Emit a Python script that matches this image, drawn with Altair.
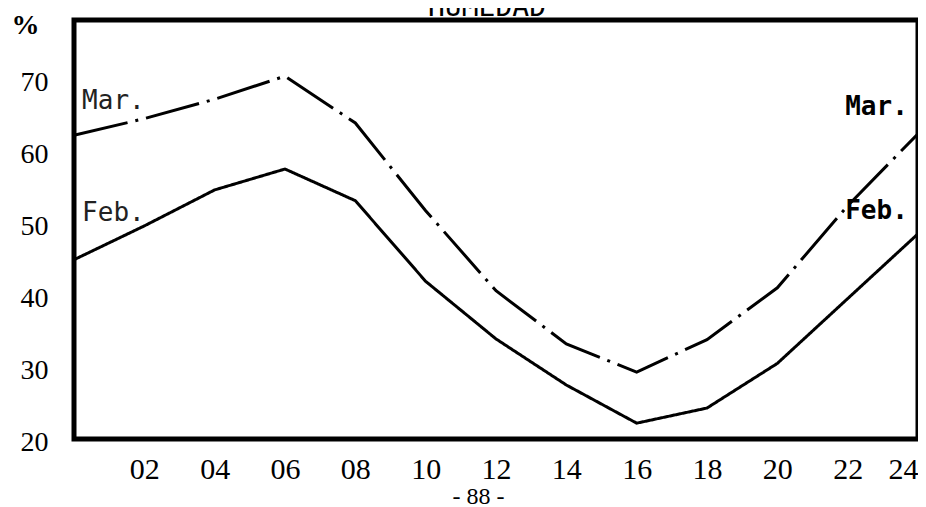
import altair as alt
import pandas as pd

# ---- data (relative humidity, %) ----
hours = [0, 2, 4, 6, 8, 10, 12, 14, 16, 18, 20, 22, 24]
feb = [44.3, 49.0, 54.0, 56.9, 52.5, 41.3, 33.3, 26.9, 21.6, 23.7, 29.9, 38.9, 47.9]
mar = [61.6, 63.9, 66.6, 69.8, 63.3, 51.1, 40.0, 32.6, 28.7, 33.2, 40.4, 51.8, 61.8]
series_names = ["Feb.", "Mar."]
x_tick_values = [2, 4, 6, 8, 10, 12, 14, 16, 18, 20, 22, 24]
y_tick_values = [20, 30, 40, 50, 60, 70]

# series labels drawn inside the frame
label_text = ["Mar.", "Feb.", "Mar.", "Feb."]
label_hour = [0.23, 0.23, 23.71, 23.71]
label_value = [66.4, 50.8, 65.5, 51.1]
label_align = ["left", "left", "right", "right"]

rows = []
for name, vals in zip(series_names, [feb, mar]):
    for h, v in zip(hours, vals):
        rows.append({"hora": h, "humedad": v, "mes": name})
df = pd.DataFrame(rows)

lab = pd.DataFrame({"texto": label_text, "hora": label_hour,
                    "humedad": label_value, "al": label_align})

x_scale = alt.Scale(domain=[0, 24], nice=False, zero=False)
y_scale = alt.Scale(domain=[19.4, 77.6], nice=False, zero=False)

x_axis = alt.Axis(values=x_tick_values, format="02d", grid=False, domain=False,
                  ticks=False, tickSize=0, labelPadding=15, labelFont="Liberation Serif",
                  labelFontSize=30, labelColor="black", labelFlush=True,
                  title="- 88 -", titleFont="Liberation Serif", titleFontSize=24,
                  titleFontWeight="normal", titleColor="black", titleX=404, titleY=57,
                  titleBaseline="middle", titleAlign="center")
y_axis = alt.Axis(values=y_tick_values, format="d", grid=False, domain=False,
                  ticks=False, tickSize=0, labelPadding=26, labelOffset=8,
                  labelFont="Liberation Serif", labelFontSize=28, labelColor="black",
                  title="%", titleAngle=0, titleX=-49, titleY=5, titleAlign="center",
                  titleBaseline="middle", titleFont="Liberation Serif", titleFontSize=28,
                  titleFontWeight="bold", titleColor="black")

lines = alt.Chart(df).mark_line(color="black", strokeWidth=3, strokeCap="butt").encode(
    x=alt.X("hora:Q", scale=x_scale, axis=x_axis),
    y=alt.Y("humedad:Q", scale=y_scale, axis=y_axis),
    strokeDash=alt.StrokeDash("mes:N",
                              scale=alt.Scale(domain=series_names,
                                              range=[[1, 0], [55, 8, 3, 8]]),
                              legend=None),
    detail="mes:N",
)

left_labels = alt.Chart(lab[lab["al"] == "left"]).mark_text(
    align="left", baseline="middle", font="DejaVu Sans Mono", fontSize=26,
    color="#222222").encode(
    x=alt.X("hora:Q", scale=x_scale), y=alt.Y("humedad:Q", scale=y_scale),
    text="texto:N")

right_labels = alt.Chart(lab[lab["al"] == "right"]).mark_text(
    align="right", baseline="middle", font="DejaVu Sans Mono", fontSize=26,
    fontWeight="bold", color="black").encode(
    x=alt.X("hora:Q", scale=x_scale), y=alt.Y("humedad:Q", scale=y_scale),
    text="texto:N")

title = alt.Chart(pd.DataFrame({"t": ["HUMEDAD"]})).mark_text(
    align="center", baseline="alphabetic", font="DejaVu Sans Mono", fontSize=28,
    color="black").encode(x=alt.value(413), y=alt.value(-4), text="t:N")

chart = alt.layer(lines, left_labels, right_labels, title).properties(
    width=844, height=419,
    autosize=alt.AutoSizeParams(type="none"),
    padding={"left": 66, "top": 12, "right": 0, "bottom": 70},
    background="white",
).configure_view(stroke="black", strokeWidth=5)

chart.save("out.html", embed_options={"renderer": "svg", "actions": False})
